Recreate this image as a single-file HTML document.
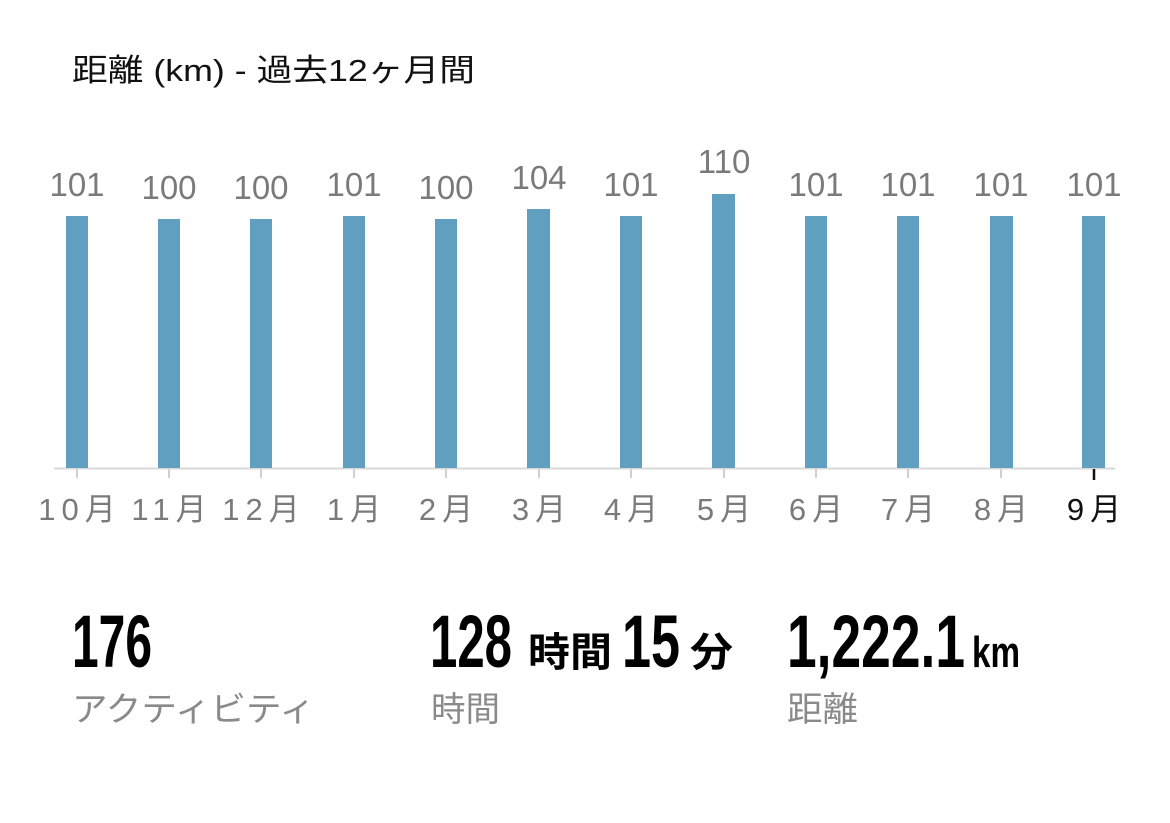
<!DOCTYPE html>
<html><head><meta charset="utf-8"><style>
html,body{margin:0;padding:0;background:#fff;}
svg{display:block;}
</style></head><body>
<svg width="1170" height="823" xmlns="http://www.w3.org/2000/svg" font-family="'Liberation Sans','Noto Sans CJK JP',sans-serif">
<text x="72" y="81" font-size="31" fill="#111" textLength="403" lengthAdjust="spacingAndGlyphs">距離 (km) - 過去12ヶ月間</text>
<line x1="54" y1="468.5" x2="1115" y2="468.5" stroke="#d8d8d8" stroke-width="2"/>
<g fill="#619fc1">
<rect x="66" y="216" width="22" height="252"/>
<rect x="158" y="219" width="22" height="249"/>
<rect x="250" y="219" width="22" height="249"/>
<rect x="343" y="216" width="22" height="252"/>
<rect x="435" y="219" width="22" height="249"/>
<rect x="527" y="209" width="23" height="259"/>
<rect x="620" y="216" width="22" height="252"/>
<rect x="712" y="194" width="23" height="274"/>
<rect x="805" y="216" width="22" height="252"/>
<rect x="897" y="216" width="22" height="252"/>
<rect x="990" y="216" width="23" height="252"/>
<rect x="1082" y="216" width="23" height="252"/>
</g>
<g font-size="33" fill="#7a7a7a" text-anchor="middle">
<text x="77" y="196">101</text>
<text x="169" y="199">100</text>
<text x="261" y="199">100</text>
<text x="354" y="196">101</text>
<text x="446" y="199">100</text>
<text x="539" y="189">104</text>
<text x="631" y="196">101</text>
<text x="724" y="173">110</text>
<text x="816" y="196">101</text>
<text x="908" y="196">101</text>
<text x="1001" y="196">101</text>
<text x="1094" y="196">101</text>
</g>
<g stroke="#d0d0d0" stroke-width="2">
<line x1="77" y1="469" x2="77" y2="478"/><line x1="169" y1="469" x2="169" y2="478"/><line x1="261" y1="469" x2="261" y2="478"/><line x1="354" y1="469" x2="354" y2="478"/><line x1="446" y1="469" x2="446" y2="478"/><line x1="539" y1="469" x2="539" y2="478"/><line x1="631" y1="469" x2="631" y2="478"/><line x1="724" y1="469" x2="724" y2="478"/><line x1="816" y1="469" x2="816" y2="478"/><line x1="908" y1="469" x2="908" y2="478"/><line x1="1001" y1="469" x2="1001" y2="478"/>
</g>
<line x1="1094" y1="469" x2="1094" y2="480" stroke="#111" stroke-width="2.5"/>
<g font-size="31" fill="#7a7a7a" text-anchor="middle" letter-spacing="6">
<text x="80" y="520">10月</text>
<text x="172" y="520">11月</text>
<text x="264" y="520">12月</text>
<text x="357" y="520">1月</text>
<text x="449" y="520">2月</text>
<text x="542" y="520">3月</text>
<text x="634" y="520">4月</text>
<text x="727" y="520">5月</text>
<text x="819" y="520">6月</text>
<text x="911" y="520">7月</text>
<text x="1004" y="520">8月</text>
<text x="1097" y="520" fill="#111">9月</text>
</g>
<g font-family="'Liberation Sans Narrow','Liberation Sans',sans-serif" font-weight="bold" fill="#000">
<text x="72" y="667" font-size="74" textLength="80" lengthAdjust="spacingAndGlyphs">176</text>
<text x="430" y="667" font-size="74" textLength="82" lengthAdjust="spacingAndGlyphs">128</text>
<text x="622" y="667" font-size="74" textLength="58" lengthAdjust="spacingAndGlyphs">15</text>
<text x="787" y="667" font-size="74" textLength="178" lengthAdjust="spacingAndGlyphs">1,222.1</text>
<text x="972" y="667" font-size="44" textLength="48" lengthAdjust="spacingAndGlyphs">km</text>
</g>
<g font-family="'Liberation Sans','Noto Sans CJK JP',sans-serif" font-weight="bold" fill="#000" font-size="40">
<text x="528" y="666" textLength="84" lengthAdjust="spacingAndGlyphs">時間</text>
<text x="690" y="666" textLength="43" lengthAdjust="spacingAndGlyphs">分</text>
</g>
<g font-size="34" fill="#8a8a8a">
<text x="72" y="721" textLength="243" lengthAdjust="spacingAndGlyphs">アクティビティ</text>
<text x="431" y="721" textLength="69" lengthAdjust="spacingAndGlyphs">時間</text>
<text x="787" y="721" textLength="71" lengthAdjust="spacingAndGlyphs">距離</text>
</g>
</svg>
</body></html>
